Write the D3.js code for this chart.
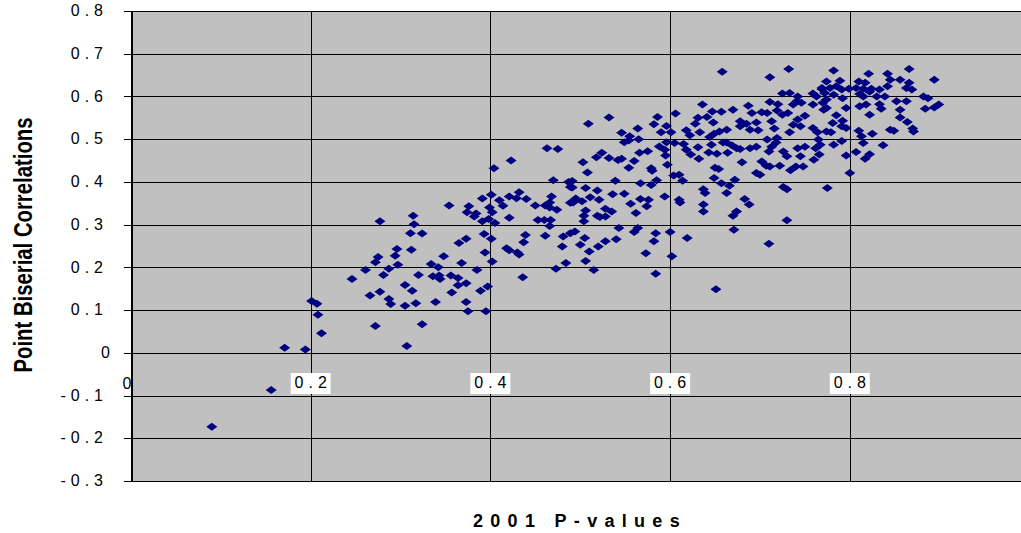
<!DOCTYPE html>
<html>
<head>
<meta charset="utf-8">
<script src="https://cdn.jsdelivr.net/npm/d3@7"></script>
<style>
html,body{margin:0;padding:0;background:#ffffff;}
svg{display:block;}
</style>
</head>
<body>
<svg id="chart" width="1021" height="533"></svg>
<script>
// ---- data ----
const xTickValues = [0.2, 0.4, 0.6, 0.8];
const xTickLabels = ["0.2", "0.4", "0.6", "0.8"];
const yTickValues = [-0.3, -0.2, -0.1, 0, 0.1, 0.2, 0.3, 0.4, 0.5, 0.6, 0.7, 0.8];
const yTickLabels = ["-0.3", "-0.2", "-0.1", "0", "0.1", "0.2", "0.3", "0.4", "0.5", "0.6", "0.7", "0.8"];
const xOriginLabel = "0";
const xTitle = "2001 P-values";
const yTitle = "Point Biserial Correlations";

// [2001 p-value, point biserial correlation]
const items = [
[0.090,-0.173],[0.156,-0.087],[0.171,0.012],[0.194,0.008],[0.212,0.046],[0.208,0.089],[0.201,0.121],[0.207,0.115],[0.246,0.173],[0.261,0.194],[0.272,0.212],[0.275,0.224],[0.281,0.182],[0.287,0.197],[0.294,0.227],[0.296,0.243],[0.277,0.308],[0.266,0.134],[0.277,0.143],[0.287,0.126],[0.289,0.114],[0.272,0.063],[0.297,0.206],
[0.305,0.110],[0.317,0.116],[0.339,0.119],[0.373,0.119],[0.375,0.097],[0.395,0.097],[0.324,0.067],[0.307,0.016],
[0.463,0.479],[0.475,0.477],[0.423,0.450],[0.404,0.432],[0.470,0.404],[0.487,0.400],[0.489,0.388],[0.432,0.376],[0.421,0.366],[0.429,0.362],[0.440,0.360],[0.401,0.370],[0.391,0.361],[0.410,0.357],[0.468,0.366],[0.466,0.352],[0.450,0.345],[0.461,0.345],[0.466,0.340],[0.474,0.335],[0.489,0.351],[0.354,0.345],[0.376,0.343],[0.399,0.340],[0.414,0.344],[0.374,0.329],[0.384,0.326],[0.382,0.319],[0.402,0.329],[0.314,0.321],[0.315,0.301],[0.421,0.316],[0.391,0.308],[0.398,0.313],[0.405,0.304],[0.453,0.311],[0.460,0.311],[0.467,0.311],[0.466,0.297],[0.311,0.280],[0.324,0.279],[0.393,0.278],[0.401,0.267],[0.373,0.267],[0.365,0.257],[0.439,0.276],[0.437,0.259],[0.461,0.274],[0.481,0.272],[0.480,0.249],[0.312,0.241],[0.348,0.226],[0.418,0.245],[0.421,0.240],[0.430,0.235],[0.432,0.230],[0.394,0.235],[0.334,0.208],[0.342,0.200],[0.368,0.210],[0.385,0.194],[0.402,0.214],[0.484,0.210],[0.473,0.197],[0.436,0.177],[0.320,0.182],[0.336,0.179],[0.344,0.173],[0.343,0.181],[0.356,0.181],[0.364,0.175],[0.373,0.163],[0.364,0.158],[0.305,0.159],[0.313,0.145],[0.357,0.141],[0.397,0.155],[0.389,0.145],
[0.636,0.581],[0.586,0.552],[0.606,0.560],[0.532,0.551],[0.509,0.536],[0.582,0.535],[0.596,0.531],[0.631,0.550],[0.641,0.552],[0.628,0.536],[0.564,0.525],[0.546,0.515],[0.555,0.507],[0.590,0.516],[0.601,0.516],[0.618,0.521],[0.633,0.516],[0.622,0.509],[0.549,0.493],[0.554,0.497],[0.565,0.500],[0.596,0.493],[0.605,0.491],[0.615,0.489],[0.588,0.483],[0.594,0.475],[0.618,0.475],[0.631,0.481],[0.524,0.468],[0.518,0.458],[0.566,0.468],[0.575,0.472],[0.532,0.456],[0.542,0.451],[0.546,0.454],[0.560,0.449],[0.595,0.462],[0.623,0.464],[0.632,0.454],[0.503,0.446],[0.597,0.440],[0.554,0.433],[0.579,0.432],[0.580,0.426],[0.508,0.422],[0.604,0.415],[0.610,0.417],[0.614,0.403],[0.491,0.402],[0.539,0.403],[0.567,0.397],[0.579,0.393],[0.585,0.404],[0.637,0.383],[0.639,0.374],[0.491,0.387],[0.506,0.386],[0.519,0.380],[0.495,0.361],[0.492,0.352],[0.502,0.355],[0.511,0.364],[0.521,0.358],[0.536,0.371],[0.549,0.372],[0.567,0.360],[0.576,0.358],[0.594,0.366],[0.610,0.358],[0.611,0.352],[0.506,0.333],[0.556,0.349],[0.574,0.343],[0.562,0.327],[0.528,0.337],[0.535,0.331],[0.519,0.321],[0.522,0.318],[0.528,0.319],[0.504,0.321],[0.504,0.308],[0.637,0.347],[0.637,0.331],[0.494,0.284],[0.489,0.280],[0.543,0.292],[0.564,0.292],[0.560,0.283],[0.584,0.280],[0.600,0.283],[0.619,0.269],[0.505,0.269],[0.500,0.253],[0.510,0.237],[0.520,0.249],[0.528,0.261],[0.540,0.266],[0.582,0.261],[0.573,0.233],[0.602,0.226],[0.506,0.215],[0.515,0.194],[0.584,0.185],
[0.658,0.658],[0.732,0.664],[0.711,0.645],[0.725,0.607],[0.733,0.608],[0.742,0.600],[0.759,0.607],[0.769,0.617],[0.772,0.608],[0.774,0.593],[0.741,0.589],[0.746,0.585],[0.737,0.581],[0.759,0.581],[0.771,0.569],[0.711,0.587],[0.720,0.582],[0.687,0.578],[0.670,0.569],[0.647,0.565],[0.657,0.564],[0.648,0.539],[0.691,0.561],[0.702,0.563],[0.708,0.561],[0.719,0.567],[0.725,0.557],[0.731,0.561],[0.678,0.542],[0.685,0.536],[0.696,0.539],[0.713,0.542],[0.742,0.546],[0.750,0.555],[0.737,0.534],[0.745,0.530],[0.678,0.530],[0.689,0.522],[0.698,0.521],[0.716,0.525],[0.663,0.522],[0.655,0.518],[0.649,0.513],[0.733,0.516],[0.759,0.526],[0.764,0.516],[0.774,0.518],[0.644,0.505],[0.708,0.499],[0.719,0.503],[0.765,0.499],[0.646,0.487],[0.659,0.492],[0.663,0.492],[0.669,0.485],[0.674,0.479],[0.678,0.477],[0.643,0.469],[0.652,0.466],[0.664,0.468],[0.689,0.479],[0.696,0.482],[0.713,0.482],[0.718,0.492],[0.710,0.471],[0.726,0.471],[0.730,0.460],[0.742,0.479],[0.750,0.482],[0.762,0.479],[0.766,0.464],[0.760,0.452],[0.745,0.460],[0.680,0.446],[0.702,0.448],[0.707,0.438],[0.711,0.436],[0.722,0.438],[0.734,0.427],[0.740,0.436],[0.748,0.436],[0.650,0.433],[0.654,0.430],[0.696,0.421],[0.700,0.417],[0.649,0.409],[0.672,0.405],[0.657,0.397],[0.666,0.391],[0.726,0.388],[0.730,0.383],[0.775,0.386],[0.663,0.374],[0.683,0.360],[0.688,0.347],[0.674,0.331],[0.670,0.321],[0.730,0.310],[0.671,0.288],[0.710,0.255],[0.651,0.149],[0.800,0.421],
[0.782,0.661],[0.866,0.664],[0.842,0.653],[0.821,0.653],[0.894,0.639],[0.774,0.635],[0.789,0.637],[0.810,0.635],[0.817,0.632],[0.845,0.639],[0.856,0.639],[0.866,0.632],[0.769,0.620],[0.778,0.620],[0.785,0.624],[0.791,0.616],[0.799,0.618],[0.807,0.620],[0.815,0.618],[0.824,0.618],[0.833,0.616],[0.842,0.624],[0.863,0.620],[0.869,0.616],[0.763,0.600],[0.782,0.604],[0.792,0.596],[0.811,0.606],[0.815,0.600],[0.822,0.611],[0.830,0.600],[0.839,0.600],[0.882,0.600],[0.887,0.596],[0.770,0.585],[0.774,0.573],[0.796,0.573],[0.811,0.577],[0.818,0.581],[0.833,0.582],[0.852,0.589],[0.863,0.589],[0.835,0.571],[0.856,0.569],[0.884,0.571],[0.899,0.581],[0.894,0.574],[0.822,0.557],[0.785,0.556],[0.856,0.551],[0.864,0.540],[0.781,0.538],[0.792,0.543],[0.791,0.530],[0.796,0.526],[0.779,0.516],[0.810,0.520],[0.813,0.507],[0.825,0.513],[0.845,0.522],[0.849,0.520],[0.870,0.525],[0.871,0.518],[0.767,0.487],[0.782,0.487],[0.791,0.496],[0.815,0.491],[0.837,0.486],[0.796,0.462],[0.807,0.470],[0.817,0.454],[0.822,0.465]
];

// ---- drawing ----
const svg = d3.select("#chart");
const x = d3.scaleLinear().domain([0, 1]).range([131, 1029.5]);
const y = d3.scaleLinear().domain([-0.3, 0.8]).range([481, 11]);
const FONT = "'Liberation Sans', Arial, sans-serif";

svg.append("rect").attr("width", 1021).attr("height", 533).attr("fill", "#ffffff");

// plot area
svg.append("rect")
  .attr("x", x(0)).attr("y", y(0.8))
  .attr("width", x(1) - x(0)).attr("height", y(-0.3) - y(0.8))
  .attr("fill", "#c0c0c0");

// horizontal gridlines
svg.append("g").selectAll("line").data(yTickValues).join("line")
  .attr("x1", x(0)).attr("x2", x(1))
  .attr("y1", d => Math.round(y(d)) + 0.5).attr("y2", d => Math.round(y(d)) + 0.5)
  .attr("stroke", "#000").attr("stroke-width", 1);

// vertical gridlines
svg.append("g").selectAll("line").data(xTickValues).join("line")
  .attr("y1", y(0.8)).attr("y2", y(-0.3))
  .attr("x1", d => Math.round(x(d)) + 0.5).attr("x2", d => Math.round(x(d)) + 0.5)
  .attr("stroke", "#000").attr("stroke-width", 1);

// y axis (line + outward ticks)
const yAxis = d3.axisLeft(y).tickValues(yTickValues).tickSize(8).tickSizeOuter(0).tickFormat("");
const yAxisG = svg.append("g").attr("transform", `translate(${Math.round(x(0)) + 0.5},0)`).call(yAxis);
yAxisG.selectAll("path,line").attr("stroke", "#000").attr("shape-rendering", "crispEdges");

// x axis at y = 0: tick marks pointing down
const xAxis = d3.axisBottom(x).tickValues(xTickValues).tickSize(5).tickSizeOuter(0).tickFormat("");
const xAxisG = svg.append("g").attr("transform", `translate(0,${Math.round(y(0)) + 0.5})`).call(xAxis);
xAxisG.select("path").remove();
xAxisG.selectAll("line").attr("stroke", "#000").attr("shape-rendering", "crispEdges");

// y tick labels
const LS = 5;
const FS = 16;
svg.append("g").selectAll("text").data(yTickValues).join("text")
  .attr("x", (d, i) => (yTickLabels[i] === "0" ? 110 : 103) + LS)
  .attr("y", d => y(d) + 1)
  .attr("dominant-baseline", "middle")
  .attr("text-anchor", "end")
  .attr("font-family", FONT).attr("font-size", FS)
  .attr("letter-spacing", LS)
  .attr("fill", "#000")
  .text((d, i) => yTickLabels[i]);

// x tick labels with white boxes
const xl = svg.append("g");
xl.selectAll("rect").data(xTickValues).join("rect")
  .attr("x", d => x(d) - 20).attr("y", 373)
  .attr("width", 40).attr("height", 21)
  .attr("fill", "#ffffff");
xl.selectAll("text").data(xTickValues).join("text")
  .attr("x", d => x(d) + LS / 2)
  .attr("y", 384)
  .attr("dominant-baseline", "middle")
  .attr("text-anchor", "middle")
  .attr("font-family", FONT).attr("font-size", FS)
  .attr("letter-spacing", LS)
  .attr("fill", "#000")
  .text((d, i) => xTickLabels[i]);
// origin label "0"
svg.append("text")
  .attr("x", x(0) - 4).attr("y", 385)
  .attr("dominant-baseline", "middle")
  .attr("text-anchor", "middle")
  .attr("font-family", FONT).attr("font-size", FS)
  .attr("fill", "#000")
  .text(xOriginLabel);
// redraw y axis line over origin label
svg.append("line")
  .attr("x1", Math.round(x(0)) + 0.5).attr("x2", Math.round(x(0)) + 0.5)
  .attr("y1", y(0.8)).attr("y2", y(-0.3))
  .attr("stroke", "#000");

// points (diamonds)
const diamond = "M0,-4L5.5,0L0,4L-5.5,0Z";
svg.append("g").selectAll("path").data(items).join("path")
  .attr("d", diamond)
  .attr("transform", d => `translate(${x(d[0])},${y(d[1])})`)
  .attr("fill", "#000080");

// axis titles
svg.append("text")
  .attr("x", 580).attr("y", 527)
  .attr("text-anchor", "middle")
  .attr("font-family", FONT).attr("font-size", 18).attr("font-weight", "bold")
  .attr("letter-spacing", 7.3)
  .attr("fill", "#000")
  .text(xTitle);

svg.append("text")
  .attr("transform", "translate(32,245) rotate(-90)")
  .attr("text-anchor", "middle")
  .attr("font-family", FONT).attr("font-size", 26).attr("font-weight", "bold")
  .attr("textLength", 255).attr("lengthAdjust", "spacingAndGlyphs")
  .attr("fill", "#000")
  .text(yTitle);
</script>
</body>
</html>
